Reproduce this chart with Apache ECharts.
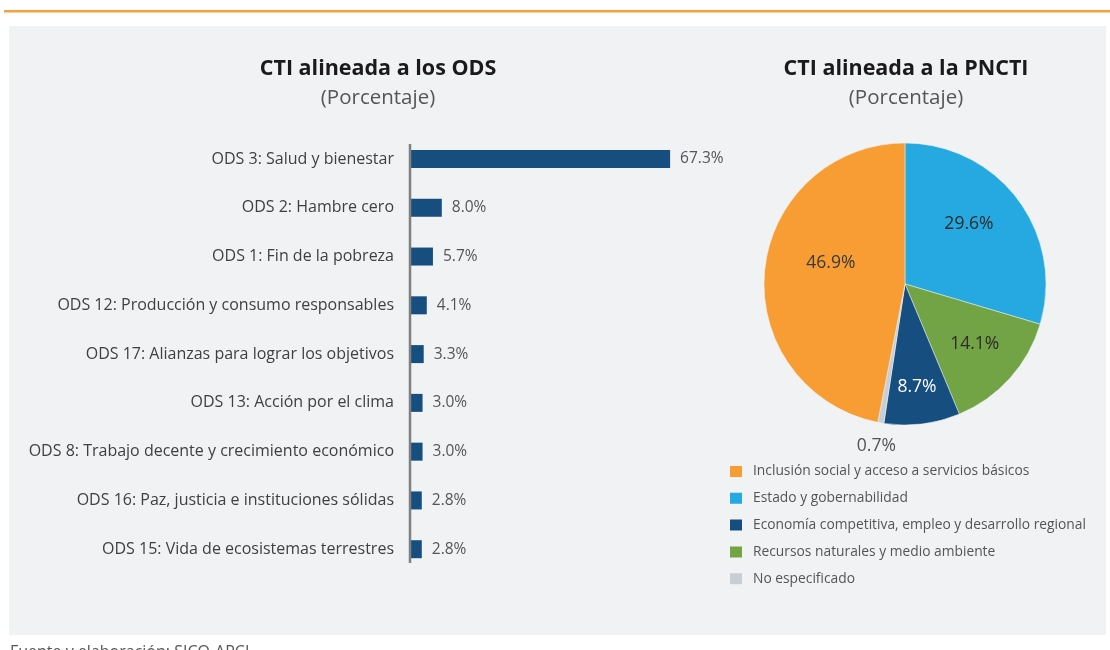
<!DOCTYPE html>
<html>
<head>
<meta charset="utf-8">
<script src="https://cdn.jsdelivr.net/npm/echarts@6/dist/echarts.min.js"></script>
<style>
  html, body { margin: 0; padding: 0; background: #fff; }
  #main { width: 1110px; height: 650px; }
</style>
</head>
<body>
<div id="main"></div>
<script>
// datos del gráfico de barras (ODS)
const odsCategorias = [
  'ODS 3: Salud y bienestar',
  'ODS 2: Hambre cero',
  'ODS 1: Fin de la pobreza',
  'ODS 12: Producción y consumo responsables',
  'ODS 17: Alianzas para lograr los objetivos',
  'ODS 13: Acción por el clima',
  'ODS 8: Trabajo decente y crecimiento económico',
  'ODS 16: Paz, justicia e instituciones sólidas',
  'ODS 15: Vida de ecosistemas terrestres'
];
const odsValores = [67.3, 8.0, 5.7, 4.1, 3.3, 3.0, 3.0, 2.8, 2.8];

// datos del pie (PNCTI), en el orden en que se dibujan desde arriba
const pnctiNombres = [
  'Estado y gobernabilidad',
  'Recursos naturales y medio ambiente',
  'Economía competitiva, empleo y desarrollo regional',
  'No especificado',
  'Inclusión social y acceso a servicios básicos'
];
const pnctiValores = [29.6, 14.1, 8.7, 0.7, 46.9];
const pnctiColores = ['#26a9e0', '#72a344', '#164e80', '#c8ced3', '#f79d34'];
const leyendaOrden = [
  'Inclusión social y acceso a servicios básicos',
  'Estado y gobernabilidad',
  'Economía competitiva, empleo y desarrollo regional',
  'Recursos naturales y medio ambiente',
  'No especificado'
];

const FONT = 'Open Sans';
const chart = echarts.init(document.getElementById('main'));

// ajustes de posición de las etiquetas del pie
const pieLabelShift = [
  { dx: 5, dy: -16 },
  { dx: 15, dy: 11 },
  { dx: 3, dy: 30 },
  { dx: -16, dy: 90 },
  { dx: -1, dy: -14 }
];
const pieLabelColor = ['#2b2b2b', '#2b2b2b', '#ffffff', '#555555', '#3a3a3a'];

const options = {
  backgroundColor: '#ffffff',
  textStyle: { fontFamily: FONT },
  graphic: [
    { type: 'rect', z: -10, shape: { x: 4, y: 10, width: 1106, height: 2.5 }, style: { fill: '#f7a23b' } },
    { type: 'rect', z: -10, shape: { x: 9, y: 26, width: 1097, height: 609 }, style: { fill: '#f1f2f4' } },
    { type: 'line', z: 10, shape: { x1: 410, y1: 144, x2: 410, y2: 563 }, style: { stroke: '#808080', lineWidth: 2.5 } },
    { type: 'text', left: 10, top: 644, style: { text: 'Fuente y elaboración: SICO-APCI', fill: '#555', font: '16px "' + FONT + '"' } }
  ],
  title: [
    {
      text: 'CTI alineada a los ODS',
      subtext: '(Porcentaje)',
      left: 373, top: 53, textAlign: 'center', itemGap: 8,
      textStyle: { fontFamily: FONT, fontSize: 21.5, fontWeight: 'bold', color: '#1a1a1a' },
      subtextStyle: { fontFamily: FONT, fontSize: 20.5, color: '#555' }
    },
    {
      text: 'CTI alineada a la PNCTI',
      subtext: '(Porcentaje)',
      left: 901, top: 53, textAlign: 'center', itemGap: 8,
      textStyle: { fontFamily: FONT, fontSize: 21.5, fontWeight: 'bold', color: '#1a1a1a' },
      subtextStyle: { fontFamily: FONT, fontSize: 20.5, color: '#555' }
    }
  ],
  legend: {
    data: leyendaOrden,
    orient: 'vertical',
    left: 728, top: 464, padding: 0,
    itemWidth: 14, itemHeight: 13, itemGap: 11.8,
    icon: 'rect',
    textStyle: { fontFamily: FONT, fontSize: 13.8, color: '#555', padding: [0, 0, 0, 5] },
    selectedMode: false
  },
  grid: { left: 411, top: 134.6, width: 385, height: 439 },
  xAxis: { type: 'value', min: 0, max: 100, show: false },
  yAxis: {
    type: 'category',
    data: odsCategorias,
    inverse: true,
    axisLine: { show: false },
    axisTick: { show: false },
    axisLabel: { fontFamily: FONT, fontSize: 16, color: '#404040', margin: 17 }
  },
  series: [
    {
      type: 'bar',
      data: odsValores,
      barWidth: 18,
      itemStyle: { color: '#164e80' },
      label: {
        show: true, position: 'right', distance: 10,
        fontFamily: FONT, fontSize: 15.5, color: '#555',
        formatter: p => p.value.toFixed(1) + '%'
      },
      silent: true
    },
    {
      type: 'pie',
      center: [905, 284],
      radius: 141,
      startAngle: 90,
      clockwise: true,
      silent: true,
      data: pnctiNombres.map((n, i) => ({
        name: n,
        value: pnctiValores[i],
        itemStyle: { color: pnctiColores[i] },
        label: { color: pieLabelColor[i] }
      })),
      label: {
        show: true, position: 'inside',
        fontFamily: FONT, fontSize: 17.5,
        formatter: p => p.value.toFixed(1) + '%'
      },
      labelLine: { show: false },
      labelLayout: p => pieLabelShift[p.dataIndex],
      itemStyle: { borderColor: '#f1f2f4', borderWidth: 0.5 }
    }
  ]
};

chart.setOption(options);
</script>
</body>
</html>
